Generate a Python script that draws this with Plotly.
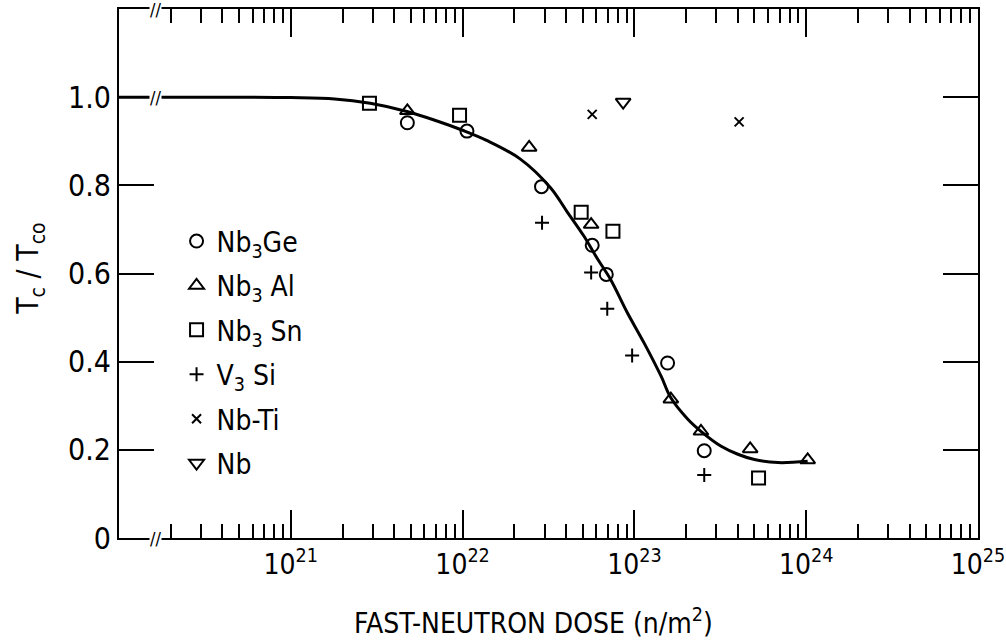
import plotly.graph_objects as go

# ---- data ----
ge_dose = [4.77e21, 1.06e22, 2.88e22, 5.68e22, 6.86e22, 1.56e23, 2.55e23]
ge_tc = [0.942, 0.923, 0.797, 0.664, 0.598, 0.397, 0.198]

al_dose = [4.77e21, 2.44e22, 5.6e22, 1.63e23, 2.44e23, 4.72e23, 1.02e24]
al_tc = [0.969, 0.886, 0.711, 0.315, 0.242, 0.202, 0.177]

sn_dose = [2.87e21, 9.6e21, 4.9e22, 7.5e22, 5.28e23]
sn_tc = [0.986, 0.959, 0.739, 0.696, 0.136]

vsi_dose = [2.9e22, 5.6e22, 6.95e22, 9.7e22, 2.55e23]
vsi_tc = [0.715, 0.602, 0.520, 0.414, 0.143]

nbti_dose = [5.68e22, 4.07e23]
nbti_tc = [0.961, 0.944]

nb_dose = [8.6e22]
nb_tc = [0.989]

curve_dose = [1.0e20, 3.2e20, 1.0e21, 1.8e21, 2.9e21, 4.8e21, 7.1e21, 1.0e22,
              1.38e22, 2.16e22, 3.24e22, 4.06e22, 5.08e22, 6.08e22, 7.28e22,
              9.1e22, 1.14e23, 1.43e23, 1.63e23, 2.04e23, 2.44e23, 3.2e23,
              4.0e23, 5.0e23, 6.85e23, 1.02e24]
curve_tc = [1.0, 1.0, 0.999, 0.996, 0.986, 0.967, 0.946, 0.925,
            0.902, 0.860, 0.795, 0.740, 0.685, 0.634, 0.586,
            0.511, 0.442, 0.367, 0.318, 0.270, 0.242, 0.208,
            0.190, 0.178, 0.171, 0.174]

x_exponents = [21, 22, 23, 24, 25]
minor_mult = [2, 3, 4, 5, 6, 7, 8, 9]
minor_exponents = [20, 21, 22, 23, 24]
y_ticks = [0, 0.2, 0.4, 0.6, 0.8, 1.0]
y_ticktext = ["0", "0.2", "0.4", "0.6", "0.8", "1.0"]

x_title = "FAST-NEUTRON DOSE (n/m<sup>2</sup>)"
y_title = "T<sub>c</sub> / T<sub>co</sub>"

FONT = "Liberation Sans Narrow, DejaVu Sans Condensed, Roboto Condensed, Liberation Sans, sans-serif"

fig = go.Figure()

fig.add_trace(go.Scatter(x=curve_dose, y=curve_tc, mode="lines",
                         line=dict(color="black", width=3, shape="spline", smoothing=1.0),
                         showlegend=False, hoverinfo="skip"))

series = [
    ("Nb<sub>3</sub>Ge", ge_dose, ge_tc, "circle-open", 13),
    ("Nb<sub>3</sub> Al", al_dose, al_tc, "triangle-up-open", 13),
    ("Nb<sub>3</sub> Sn", sn_dose, sn_tc, "square-open", 13),
    ("V<sub>3</sub> Si", vsi_dose, vsi_tc, "cross-thin-open", 10),
    ("Nb-Ti", nbti_dose, nbti_tc, "x-thin-open", 9),
    ("Nb", nb_dose, nb_tc, "triangle-down-open", 13),
]
for i, (name, xs, ys, sym, sz) in enumerate(series):
    fig.add_trace(go.Scatter(
        x=xs, y=ys, mode="markers", name=name, legendgroup=str(i),
        marker=dict(symbol=sym, size=sz, color="black",
                    line=dict(color="black", width=2)),
    ))

minor_vals = [m * 10.0 ** e for e in minor_exponents for m in minor_mult]

fig.update_xaxes(
    type="log", range=[20, 25],
    tickvals=[10.0 ** e for e in x_exponents],
    ticktext=["10<sup>%d</sup>" % e for e in x_exponents],
    ticks="inside", ticklen=28, tickwidth=1.5, tickcolor="black",
    minor=dict(tickvals=minor_vals, ticks="inside", ticklen=14,
               tickwidth=1.5, tickcolor="black"),
    showline=True, linewidth=2, linecolor="black", mirror="ticks",
    showgrid=False, zeroline=False, automargin=False,
    ticklabeloverflow="allow",
    tickfont=dict(family=FONT, size=28, color="black"),
)
fig.update_yaxes(
    range=[0, 1.2], tickvals=y_ticks, ticktext=y_ticktext,
    ticks="inside", ticklen=35, tickwidth=1.5, tickcolor="black",
    showline=True, linewidth=2, linecolor="black", mirror="ticks",
    showgrid=False, zeroline=False, automargin=False,
    tickfont=dict(family=FONT, size=30, color="black"),
)

# axis titles
fig.add_annotation(x=0.482, y=-0.157, xref="paper", yref="paper", text=x_title,
                   xanchor="center", yanchor="middle", showarrow=False,
                   font=dict(family=FONT, size=28, color="black"))
fig.add_annotation(x=-0.104, y=0.51, xref="paper", yref="paper", text=y_title,
                   xanchor="center", yanchor="middle", showarrow=False,
                   textangle=-90,
                   font=dict(family=FONT, size=30, color="black"))

# axis-break marks
for yy in [0.0, 1.0, 1.0 / 1.2]:
    fig.add_annotation(x=0.042, y=yy, xref="paper", yref="paper", text="//",
                       xanchor="center", yanchor="middle",
                       showarrow=False, bgcolor="white", borderpad=0,
                       font=dict(family=FONT, size=18, color="black"))

fig.update_layout(
    width=1006, height=640,
    margin=dict(l=119, r=28, t=9, b=102),
    paper_bgcolor="white", plot_bgcolor="white",
    showlegend=True,
    legend=dict(x=0.067, y=0.608, xanchor="left", yanchor="top",
                bgcolor="rgba(0,0,0,0)", traceorder="grouped",
                tracegroupgap=5, itemwidth=30,
                font=dict(family=FONT, size=28, color="black")),
)

fig.write_html("out.html")
